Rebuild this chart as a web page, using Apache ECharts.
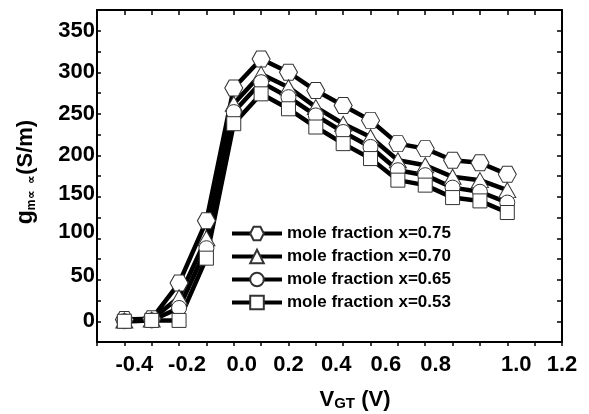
<!DOCTYPE html>
<html>
<head>
<meta charset="utf-8">
<script src="https://cdn.jsdelivr.net/npm/echarts@6/dist/echarts.min.js"></script>
<style>
  html, body { margin: 0; padding: 0; background: #fff; }
  #chart { width: 589px; height: 414px; }
</style>
</head>
<body>
<div id="chart"></div>
<script>
// Gate voltage (V) and transconductance (S/m) for four mole fractions
const vgt = [-0.4, -0.3, -0.2, -0.1, 0.0, 0.1, 0.2, 0.3, 0.4, 0.5, 0.6, 0.7, 0.8, 0.9, 1.0];
const gm075 = [2, 3, 46, 121, 281, 316, 300, 278, 260, 242, 214, 208, 194, 191, 177];
const gm070 = [1, 2, 29, 100, 262, 298, 282, 258, 238, 222, 194, 188, 174, 170, 158];
const gm065 = [0, 1, 16, 88, 252, 288, 270, 248, 228, 210, 182, 176, 161, 156, 143];
const gm053 = [0, 1, 1, 76, 238, 274, 256, 234, 214, 196, 170, 164, 149, 145, 131];
const seriesNames = ['mole fraction x=0.75', 'mole fraction x=0.70', 'mole fraction x=0.65', 'mole fraction x=0.53'];
const xTickLabels = ['-0.4', '-0.2', '0.0', '0.2', '0.4', '0.6', '0.8', '1.0', '1.2'];
const yTickLabels = ['0', '50', '100', '150', '200', '250', '300', '350'];

const FONT = 'Arial, "Liberation Sans", sans-serif';
const hexagon = 'path://M0,50 L25,7 L75,7 L100,50 L75,93 L25,93 Z';

// hand-set nudges for individual tick labels (pixels; + = right / up)
const xLabelNudge = { '-0.4': 10, '-0.2': 8, '0.0': 8, '0.2': 0, '0.4': -7, '0.6': -12, '0.8': -17, '1.0': 9, '1.2': 0 };
const yLabelNudge = { '0': 0, '50': 4, '100': 6, '150': 3, '200': 0, '250': 0, '300': 0, '350': 0 };

function pairs(ys) { return vgt.map((x, i) => [x, ys[i]]); }

function makeSeries(name, ys, symbol, size) {
  return {
    name: name,
    type: 'line',
    xAxisIndex: 0,
    yAxisIndex: 0,
    data: pairs(ys),
    symbol: symbol,
    symbolSize: size,
    showAllSymbol: true,
    lineStyle: { color: '#000', width: 4.5 },
    itemStyle: { color: '#fff', borderColor: '#333', borderWidth: 1 },
    emphasis: { disabled: true },
    animation: false
  };
}

const labelFont = { color: '#000', fontSize: 22, fontWeight: 'bold', fontFamily: FONT };

// one rich style per tick label so each can carry its own nudge
const xRich = {};
xTickLabels.forEach((t, i) => {
  const d = xLabelNudge[t] || 0;
  xRich['x' + i] = Object.assign({}, labelFont, { padding: [0, d < 0 ? -2 * d : 0, 0, d > 0 ? 2 * d : 0] });
});
const yRich = {};
yTickLabels.forEach((t, i) => {
  const d = yLabelNudge[t] || 0;
  yRich['y' + i] = Object.assign({}, labelFont, { padding: [0, 0, 2 * d, 0] });
});

const chart = echarts.init(document.getElementById('chart'), null, { renderer: 'canvas' });

const axisLine = { onZero: false, lineStyle: { color: '#000', width: 2 } };
const baseX = { type: 'value', min: -0.5, max: 1.2, interval: 0.1, splitLine: { show: false }, axisLine: axisLine };
const baseY = { type: 'value', min: -25, max: 375, interval: 25, splitLine: { show: false }, axisLine: axisLine };

chart.setOption({
  backgroundColor: '#fff',
  animation: false,
  grid: { left: 97, right: 27, top: 10, bottom: 72, containLabel: false },
  xAxis: [
    Object.assign({}, baseX, {
      position: 'bottom',
      axisTick: { inside: false, length: 4, lineStyle: { color: '#000', width: 1.5 } },
      axisLabel: Object.assign({}, labelFont, {
        margin: 12,
        rich: xRich,
        formatter: v => {
          const t = (Math.round(v * 10) / 10).toFixed(1);
          const i = xTickLabels.indexOf(t);
          return i < 0 ? '' : '{x' + i + '|' + t + '}';
        }
      })
    }),
    Object.assign({}, baseX, {
      position: 'top',
      axisTick: { inside: true, length: 5, lineStyle: { color: '#000', width: 1.5 } },
      axisLabel: { show: false }
    })
  ],
  yAxis: [
    Object.assign({}, baseY, {
      position: 'left',
      axisTick: { inside: true, length: 4, lineStyle: { color: '#000', width: 1.5 } },
      axisLabel: Object.assign({}, labelFont, {
        margin: 2,
        rich: yRich,
        formatter: v => {
          const i = yTickLabels.indexOf(String(v));
          return i < 0 ? '' : '{y' + i + '|' + v + '}';
        }
      })
    }),
    Object.assign({}, baseY, {
      position: 'right',
      axisTick: { inside: true, length: 5, lineStyle: { color: '#000', width: 1.5 } },
      axisLabel: { show: false }
    })
  ],
  legend: {
    orient: 'vertical',
    left: 230,
    top: 225,
    padding: 0,
    itemWidth: 50,
    itemHeight: 17,
    itemGap: 6,
    selectedMode: false,
    data: seriesNames,
    lineStyle: { width: 4 },
    textStyle: { color: '#000', fontSize: 17, fontWeight: 'bold', fontFamily: FONT, lineHeight: 17 }
  },
  series: [
    makeSeries(seriesNames[0], gm075, hexagon, [18, 16]),
    makeSeries(seriesNames[1], gm070, 'triangle', [17, 15]),
    makeSeries(seriesNames[2], gm065, 'circle', 15),
    makeSeries(seriesNames[3], gm053, 'rect', [14, 14])
  ],
  graphic: [
    {
      type: 'text',
      x: 26, y: 172,
      rotation: Math.PI / 2,
      style: {
        text: '{g|g}{s|m∝  ∝}{u|(S/m)}',
        align: 'center',
        verticalAlign: 'middle',
        fill: '#000',
        rich: {
          g: { fontSize: 23, fontWeight: 'bold', fontFamily: FONT, fill: '#000' },
          s: { fontSize: 12, fontWeight: 'bold', fontFamily: FONT, fill: '#000', verticalAlign: 'bottom' },
          u: { fontSize: 22, fontWeight: 'bold', fontFamily: FONT, fill: '#000' }
        }
      }
    },
    {
      type: 'text',
      x: 355, y: 400,
      style: {
        text: '{v|V}{s|GT}{v| (V)}',
        align: 'center',
        verticalAlign: 'middle',
        fill: '#000',
        rich: {
          v: { fontSize: 22, fontWeight: 'bold', fontFamily: FONT, fill: '#000' },
          s: { fontSize: 15, fontWeight: 'bold', fontFamily: FONT, fill: '#000', verticalAlign: 'bottom' }
        }
      }
    }
  ]
});
</script>
</body>
</html>
